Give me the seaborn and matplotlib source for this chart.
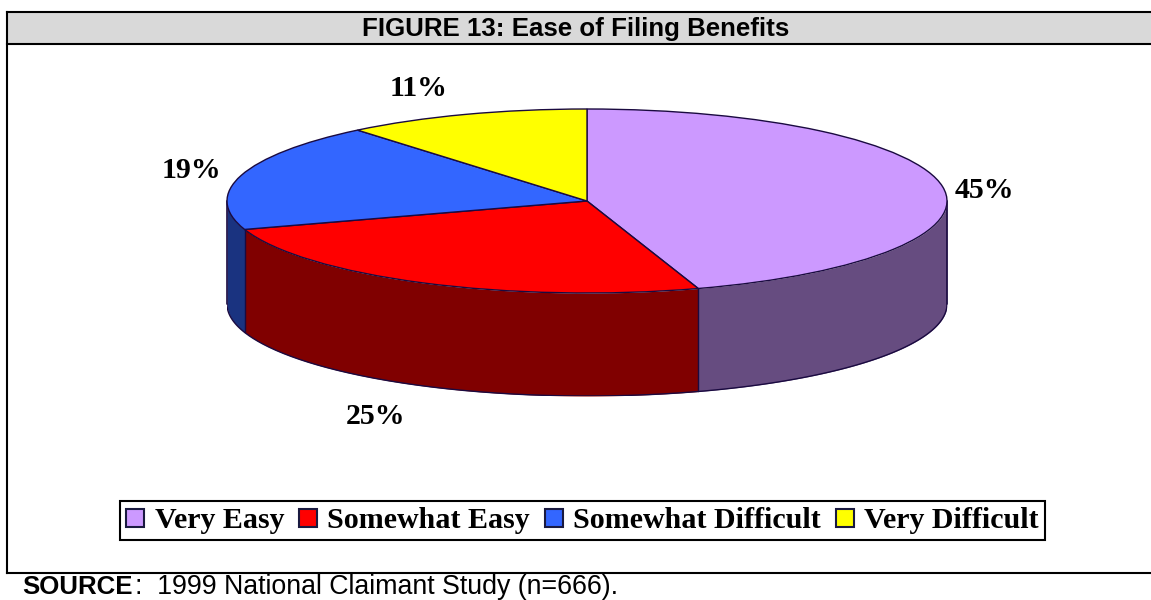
import numpy as np
import matplotlib
matplotlib.use("Agg")
import matplotlib.pyplot as plt
from matplotlib.patches import Rectangle
from matplotlib.lines import Line2D
import seaborn as sns

categories = ["Very Easy", "Somewhat Easy", "Somewhat Difficult", "Very Difficult"]
shares = [45, 25, 19, 11]
top_colors = ["#CC99FF", "#FF0000", "#3366FF", "#FFFF00"]
side_colors = ["#664C80", "#800000", "#1A3380", "#808000"]
title = "FIGURE 13: Ease of Filing Benefits"
source_bold = "SOURCE"
source_rest = ":  1999 National Claimant Study (n=666)."

sns.set_theme(style="white", rc={"axes.facecolor": "white"})
W, H = 1151, 600
fig = plt.figure(figsize=(W / 100, H / 100), dpi=100, facecolor="white")

# Page layer in pixel units
page = fig.add_axes([0, 0, 1, 1])
page.set_xlim(0, W)
page.set_ylim(H, 0)
page.axis("off")
page.add_patch(Rectangle((7, 12), W - 7, 32, fc="#D9D9D9", ec="none", zorder=0))
for xs, ys in [((7, W), (12, 12)), ((7, W), (44, 44)), ((7, W), (573, 573)), ((7, 7), (12, 573))]:
    page.plot(xs, ys, color="black", lw=1.5, solid_capstyle="projecting", zorder=1)
page.text(576, 29, title, ha="center", va="center", fontsize=18.6, fontweight="bold",
          family="Liberation Sans", color="black")
page.text(22, 587, source_bold, ha="left", va="center", fontsize=18.6, fontweight="bold",
          family="Liberation Sans", color="black")
page.text(135, 587, source_rest, ha="left", va="center", fontsize=19.3,
          family="Liberation Sans", color="black")

# Pie drawn on stretched axes, so a unit circle renders as the tilted ellipse
cx, cy, rx, ry, depth = 587, 201, 360, 92, 103
ax = fig.add_axes([(cx - rx) / W, 1 - (cy + ry + depth) / H, 2 * rx / W, (2 * ry + depth) / H])
ax.patch.set_alpha(0)
d = depth / ry
edge = "#1a0a40"

cum = np.cumsum([0] + shares) / sum(shares) * 2 * np.pi
for i in [3, 2, 0, 1]:
    th = np.linspace(cum[i], cum[i + 1], 200)
    x, y = np.sin(th), np.cos(th)
    # visible wall: the front half of the rim only
    front = (th > np.pi / 2) & (th < 3 * np.pi / 2)
    if front.any():
        ax.fill_between(x[front], y[front], y[front] - d, color=side_colors[i], lw=0, zorder=1)
        ax.plot(x[front], y[front] - d, color=edge, lw=1.0, zorder=2)

wedges, _ = ax.pie(shares, colors=top_colors, startangle=90, counterclock=False,
                   wedgeprops={"edgecolor": edge, "linewidth": 1.0, "zorder": 3})
ax.set_aspect("auto")
ax.set_xlim(-1, 1)
ax.set_ylim(-1 - d, 1)
for a in [cum[1], cum[2]]:
    ax.plot([np.sin(a)] * 2, [np.cos(a), np.cos(a) - d], color=edge, lw=1.0, zorder=2)
for s in [-1, 1]:
    ax.plot([s, s], [0, -d], color=edge, lw=1.2, zorder=2, clip_on=False)

# Percentage labels
label_pos = [(984, 190), (376, 417), (191, 170), (419, 88)]
for share, (lx, ly) in zip(shares, label_pos):
    page.text(lx, ly, f"{share}%", ha="center", va="center", fontsize=21.5, fontweight="bold",
              family="Liberation Serif", color="black", zorder=6)

# Legend
handles = [Line2D([], [], marker="s", ls="none", ms=12.5, mfc=c, mec="#1a1a40", mew=1.5)
           for c in top_colors]
leg = page.legend(handles, categories, ncol=4, loc="center", bbox_to_anchor=(582.5 / W, 1 - 520.5 / H),
                  bbox_transform=fig.transFigure, frameon=True, fancybox=False, edgecolor="black",
                  framealpha=1, handlelength=0.6, handletextpad=0.34, columnspacing=0.5,
                  borderpad=0.2, borderaxespad=0, labelcolor="black",
                  prop={"family": "Liberation Serif", "weight": "bold", "size": 21.6})
leg.get_frame().set_linewidth(1.5)
leg.set_zorder(6)

fig.savefig("out.png", dpi=100)
